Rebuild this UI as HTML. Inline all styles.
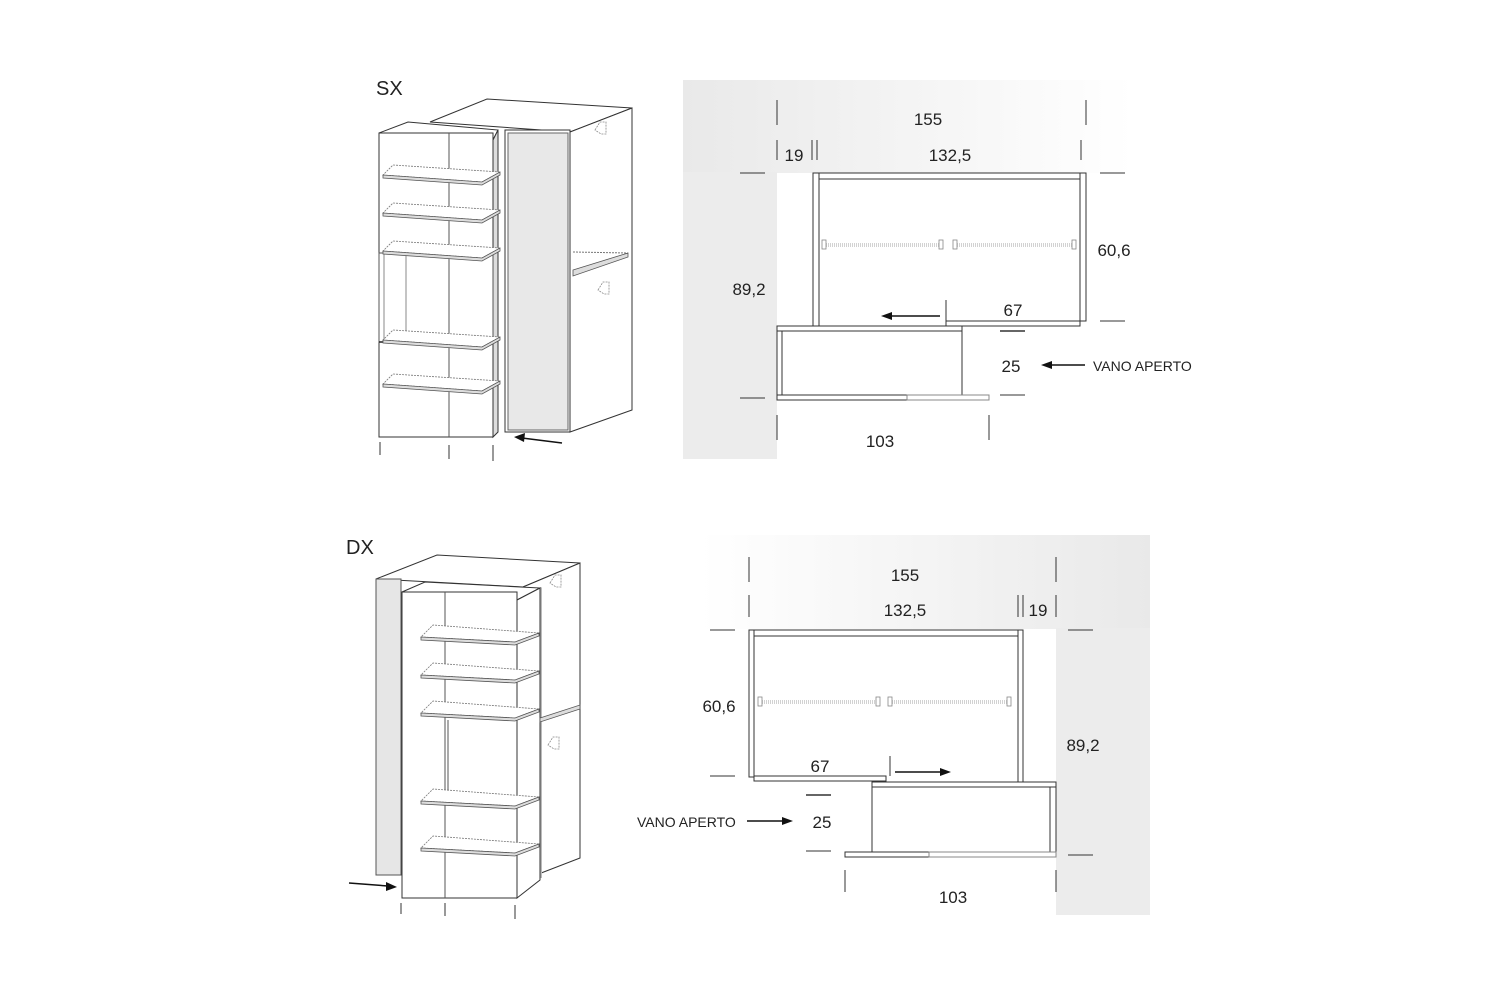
<!DOCTYPE html>
<html><head><meta charset="utf-8"><style>
html,body{margin:0;padding:0;background:#fff}
svg{display:block}
text{font-family:"Liberation Sans",sans-serif;fill:#222}
</style></head><body>
<svg width="1500" height="1000" viewBox="0 0 1500 1000" xmlns="http://www.w3.org/2000/svg">
<defs>
<linearGradient id="g1" x1="0" x2="1" y1="0" y2="0"><stop offset="0" stop-color="#e9e9e9"/><stop offset="1" stop-color="#ffffff"/></linearGradient>
<linearGradient id="g2" x1="0" x2="1" y1="0" y2="0"><stop offset="0" stop-color="#ffffff"/><stop offset="1" stop-color="#e9e9e9"/></linearGradient>
<g id="shA"><polygon points="0,0 99,7 117,-3 10,-10" fill="#fff" stroke="#777" stroke-width="0.8" stroke-dasharray="2,1"/><polygon points="0,0 99,7 117,-3 117,0 99,10 0,3" fill="#ddd" stroke="#555" stroke-width="0.8"/></g>
<g id="shB"><polygon points="0,0 94,5 118,-4 12,-12" fill="#fff" stroke="#777" stroke-width="0.8" stroke-dasharray="2,1"/><polygon points="0,0 94,5 118,-4 118,-1 94,8 0,3" fill="#ddd" stroke="#555" stroke-width="0.8"/></g>
</defs>
<!-- SX backgrounds -->
<rect x="683" y="80" width="450" height="93" fill="url(#g1)"/>
<rect x="683" y="172" width="94" height="287" fill="#ececec"/>
<!-- DX backgrounds -->
<rect x="700" y="535" width="450" height="94" fill="url(#g2)"/>
<rect x="1056" y="628" width="94" height="287" fill="#ececec"/>

<g stroke="#333" stroke-width="1" fill="none">
<!-- ===== SX cabinet ===== -->
<polygon points="430,122 487,99 632,108 570,132" fill="#fff"/>
<polygon points="570,132 632,108 632,410 570,432" fill="#fff"/>
<rect x="505" y="130" width="65" height="302" fill="#fff"/>
<rect x="508" y="133" width="60" height="297" fill="#e8e8e8" stroke="#666"/>
<polygon points="379,133 408,122 498,130 493,140" fill="#fff"/>
<rect x="379" y="133" width="114" height="304" fill="#fff"/>
<polygon points="493,140 498,130 498,432 493,437" fill="#ddd"/>
<rect x="379" y="253" width="114" height="89" fill="#fff" stroke="#555"/>
<line x1="384" y1="253" x2="384" y2="342" stroke="#888"/>
<line x1="406" y1="255" x2="406" y2="335" stroke="#888"/>
<line x1="449" y1="133" x2="449" y2="437" stroke="#555"/>
<line x1="379" y1="342" x2="493" y2="342" stroke="#222" stroke-width="1.5"/>
<line x1="379" y1="253" x2="493" y2="253" stroke="#555"/>
<!-- right rail/shelf -->
<polygon points="573,270 628,253 628,257 573,276" fill="#ddd" stroke="#555" stroke-width="0.8"/>
<line x1="573" y1="252" x2="628" y2="253" stroke="#777" stroke-dasharray="2,1"/>
<path d="M595,130 l5,-8 l6,0 l0,12 l-5,0 z" stroke="#888" stroke-dasharray="2,1" stroke-width="0.8"/>
<path d="M598,290 l5,-8 l6,0 l0,12 l-5,0 z" stroke="#888" stroke-dasharray="2,1" stroke-width="0.8"/>
<line x1="380" y1="442" x2="380" y2="455"/><line x1="449" y1="445" x2="449" y2="459"/><line x1="493" y1="445" x2="493" y2="461"/>
<!-- ===== DX cabinet ===== -->
<polygon points="376,579 437,555 580,563 523,587" fill="#fff"/>
<polygon points="523,587 580,563 580,858 523,880" fill="#fff"/>
<rect x="376" y="579" width="25" height="296" fill="#e6e6e6" stroke="#555"/>
<polygon points="402,592 425,582 540,588 517,600" fill="#fff"/>
<rect x="539" y="588" width="3" height="290" fill="#bbb" stroke="none"/>
<polygon points="517,600 540,588 540,880 517,898" fill="#fff"/>
<rect x="402" y="592" width="115" height="306" fill="#fff"/>
<line x1="445" y1="592" x2="445" y2="898" stroke="#555"/>
<line x1="448" y1="720" x2="448" y2="803" stroke="#aaa" stroke-width="2"/>
<line x1="448" y1="803" x2="517" y2="806" stroke="#333" stroke-width="1.5"/>
<polygon points="540,718 580,705 580,709 540,722" fill="#ddd" stroke="#555" stroke-width="0.8"/>
<path d="M548,745 l5,-8 l6,0 l0,12 l-5,0 z" stroke="#888" stroke-dasharray="2,1" stroke-width="0.8"/>
<path d="M550,583 l5,-8 l6,0 l0,12 l-5,0 z" stroke="#888" stroke-dasharray="2,1" stroke-width="0.8"/>
<line x1="401" y1="903" x2="401" y2="914"/><line x1="445" y1="903" x2="445" y2="916"/><line x1="515" y1="905" x2="515" y2="919"/>

<!-- ===== SX plan ===== -->
<line x1="777" y1="100" x2="777" y2="125"/><line x1="1086" y1="100" x2="1086" y2="125"/>
<line x1="777" y1="140" x2="777" y2="160"/><line x1="812" y1="140" x2="812" y2="160"/><line x1="817" y1="140" x2="817" y2="160"/><line x1="1081" y1="140" x2="1081" y2="160"/>
<line x1="740" y1="173" x2="765" y2="173"/><line x1="740" y1="398" x2="765" y2="398"/>
<line x1="1100" y1="173" x2="1125" y2="173"/><line x1="1100" y1="321" x2="1125" y2="321"/>
<line x1="1000" y1="331" x2="1025" y2="331" stroke-width="1.5"/><line x1="1000" y1="395" x2="1025" y2="395"/>
<line x1="777" y1="415" x2="777" y2="440"/><line x1="989" y1="415" x2="989" y2="440"/>
<rect x="813" y="173" width="6" height="153" fill="#fff"/>
<rect x="819" y="173" width="261" height="6" fill="#fff"/>
<rect x="1080" y="173" width="6" height="148" fill="#fff"/>
<rect x="946" y="321" width="134" height="5" fill="#fff"/>
<line x1="946" y1="300" x2="946" y2="321"/>
<rect x="777" y="326" width="185" height="5" fill="#fff"/>
<rect x="777" y="331" width="5" height="64" fill="#fff"/>
<line x1="962" y1="331" x2="962" y2="395"/>
<rect x="777" y="395" width="130" height="5" fill="#fff"/>
<rect x="907" y="395" width="82" height="5" fill="#fff" stroke="#888"/>
<g stroke="#888" stroke-width="0.8"><rect x="822" y="240" width="4" height="9"/><rect x="939" y="240" width="4" height="9"/><line x1="826" y1="244" x2="939" y2="244" stroke-dasharray="1,1"/><line x1="826" y1="246" x2="939" y2="246" stroke-dasharray="1,1"/>
<rect x="953" y="240" width="4" height="9"/><rect x="1072" y="240" width="4" height="9"/><line x1="957" y1="244" x2="1072" y2="244" stroke-dasharray="1,1"/><line x1="957" y1="246" x2="1072" y2="246" stroke-dasharray="1,1"/></g>

<!-- ===== DX plan ===== -->
<line x1="749" y1="557" x2="749" y2="582"/><line x1="1056" y1="557" x2="1056" y2="582"/>
<line x1="749" y1="595" x2="749" y2="617"/><line x1="1018" y1="595" x2="1018" y2="617"/><line x1="1023" y1="595" x2="1023" y2="617"/><line x1="1056" y1="595" x2="1056" y2="617"/>
<line x1="710" y1="630" x2="735" y2="630"/><line x1="710" y1="776" x2="735" y2="776"/>
<line x1="1068" y1="630" x2="1093" y2="630"/><line x1="1068" y1="855" x2="1093" y2="855"/>
<line x1="806" y1="795" x2="831" y2="795" stroke-width="1.5"/><line x1="806" y1="851" x2="831" y2="851"/>
<line x1="845" y1="870" x2="845" y2="892"/><line x1="1056" y1="870" x2="1056" y2="892"/>
<rect x="749" y="630" width="5" height="147" fill="#fff"/>
<rect x="754" y="630" width="264" height="6" fill="#fff"/>
<rect x="1018" y="630" width="5" height="152" fill="#fff"/>
<rect x="754" y="776" width="132" height="5" fill="#fff"/>
<line x1="890" y1="756" x2="890" y2="776"/>
<rect x="872" y="782" width="184" height="5" fill="#fff"/>
<rect x="1050" y="787" width="6" height="65" fill="#fff"/>
<line x1="872" y1="787" x2="872" y2="852"/>
<rect x="845" y="852" width="84" height="5" fill="#fff"/>
<rect x="929" y="852" width="127" height="5" fill="#fff" stroke="#888"/>
<g stroke="#888" stroke-width="0.8"><rect x="758" y="697" width="4" height="9"/><rect x="876" y="697" width="4" height="9"/><line x1="762" y1="701" x2="876" y2="701" stroke-dasharray="1,1"/><line x1="762" y1="703" x2="876" y2="703" stroke-dasharray="1,1"/>
<rect x="888" y="697" width="4" height="9"/><rect x="1007" y="697" width="4" height="9"/><line x1="892" y1="701" x2="1007" y2="701" stroke-dasharray="1,1"/><line x1="892" y1="703" x2="1007" y2="703" stroke-dasharray="1,1"/></g>

<!-- arrows -->
<g stroke="#111" stroke-width="1.5">
<line x1="562" y1="443" x2="522" y2="438"/>
<line x1="940" y1="316" x2="890" y2="316"/>
<line x1="1085" y1="365" x2="1050" y2="365"/>
<line x1="349" y1="883" x2="388" y2="886"/>
<line x1="747" y1="821" x2="784" y2="821"/>
<line x1="895" y1="772" x2="942" y2="772"/>
</g>
</g>
<g fill="#111">
<polygon points="514,437 525,433 524,442"/>
<polygon points="881,316 892,312 892,320"/>
<polygon points="1041,365 1052,361 1052,369"/>
<polygon points="397,887 386,882 386,891"/>
<polygon points="793,821 782,817 782,825"/>
<polygon points="951,772 940,768 940,776"/>
</g>
<g stroke="#777" stroke-width="0.8" fill="none">
<use href="#shA" x="383" y="175"/><use href="#shA" x="383" y="213"/><use href="#shA" x="383" y="251"/><use href="#shA" x="383" y="340"/><use href="#shA" x="383" y="384"/>
<use href="#shB" x="421" y="637"/><use href="#shB" x="421" y="675"/><use href="#shB" x="421" y="713"/><use href="#shB" x="421" y="801"/><use href="#shB" x="421" y="848"/>
</g>

<g font-size="17">
<text x="376" y="95" font-size="20">SX</text>
<text x="346" y="554" font-size="20">DX</text>
<text x="928" y="125" text-anchor="middle">155</text>
<text x="794" y="161" text-anchor="middle">19</text>
<text x="950" y="161" text-anchor="middle">132,5</text>
<text x="1114" y="256" text-anchor="middle">60,6</text>
<text x="749" y="295" text-anchor="middle">89,2</text>
<text x="1013" y="316" text-anchor="middle">67</text>
<text x="1011" y="372" text-anchor="middle">25</text>
<text x="1093" y="371" font-size="14">VANO APERTO</text>
<text x="880" y="447" text-anchor="middle">103</text>
<text x="905" y="581" text-anchor="middle">155</text>
<text x="905" y="616" text-anchor="middle">132,5</text>
<text x="1038" y="616" text-anchor="middle">19</text>
<text x="719" y="712" text-anchor="middle">60,6</text>
<text x="1083" y="751" text-anchor="middle">89,2</text>
<text x="820" y="772" text-anchor="middle">67</text>
<text x="822" y="828" text-anchor="middle">25</text>
<text x="637" y="827" font-size="14">VANO APERTO</text>
<text x="953" y="903" text-anchor="middle">103</text>
</g>
</svg>
</body></html>
